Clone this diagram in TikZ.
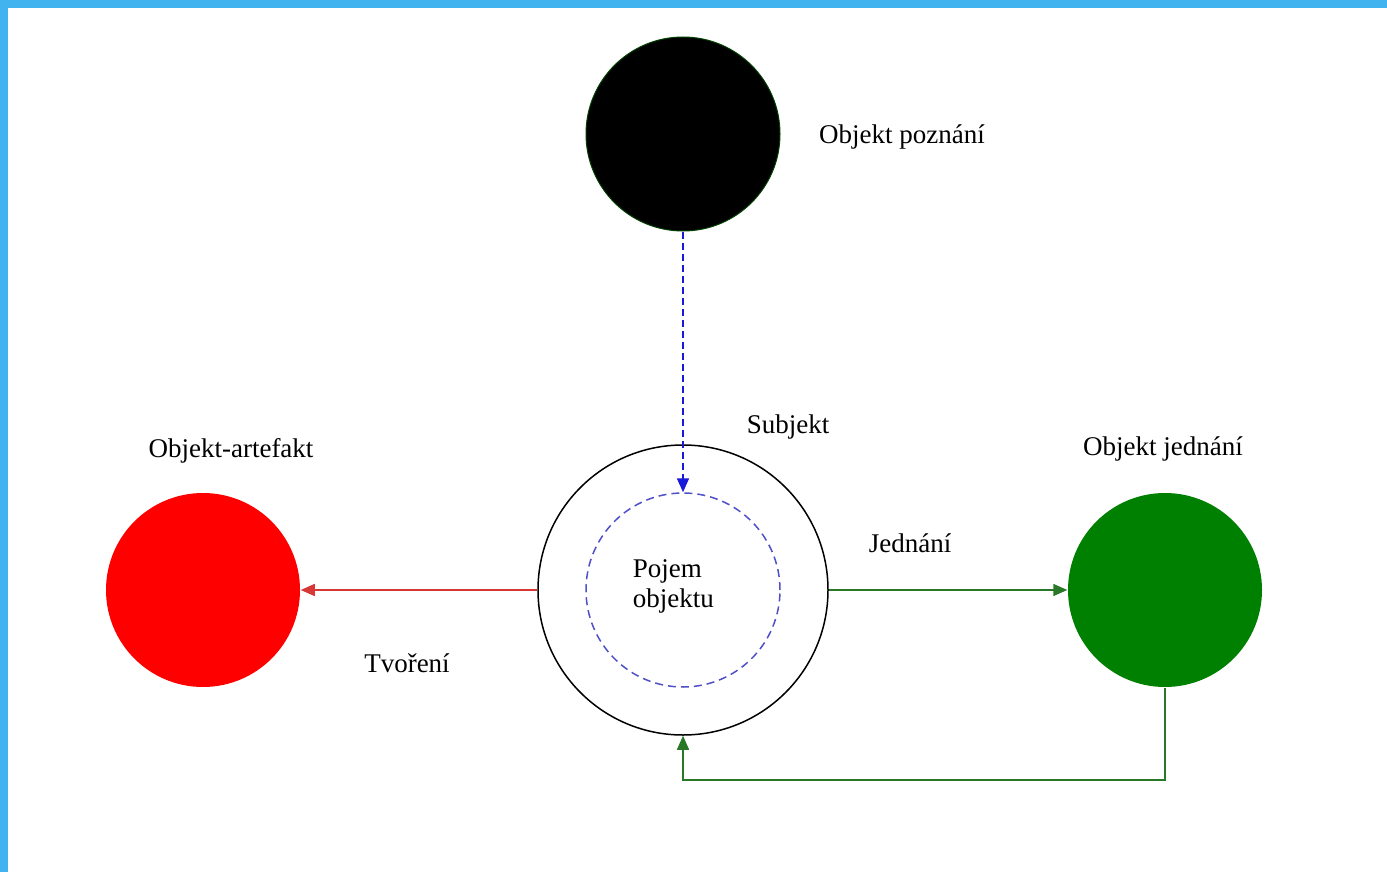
\documentclass[tikz,border=0pt]{standalone}
\usepackage{fontspec}
\setmainfont{Liberation Serif}
\usetikzlibrary{arrows.meta}
\definecolor{frameblue}{RGB}{65,180,240}
\definecolor{objgreen}{RGB}{0,128,0}
\definecolor{linegreen}{RGB}{40,120,40}
\definecolor{linered}{RGB}{215,55,55}
\definecolor{arrblue}{RGB}{25,25,220}
\definecolor{dashblue}{RGB}{80,80,200}
\tikzset{
  obj/.style={circle, minimum size=194pt, inner sep=0pt},
  lbl/.style={font=\fontsize{27}{30}\selectfont, inner sep=0pt},
  tip/.style={-{Triangle[length=14pt,width=12pt]}}
}
\begin{document}
\begin{tikzpicture}[x=1pt, y=-1pt, line width=1.5pt]
          \fill[frameblue] (0,0) rectangle (1387,872);
          \fill[white] (8,8) rectangle (1387,872);

          \node[obj, fill=black, draw=objgreen!50!black, line width=1pt] (nPoz) at (683,134) {};
          \node[obj, fill=red] (nArt) at (203,590) {};
          \node[obj, fill=objgreen] (nJed) at (1165,590) {};
          \node[circle, draw=black, minimum size=290pt, inner sep=0pt] (nSub) at (683,590) {};
          \node[obj, draw=dashblue, dash pattern=on 8pt off 5pt] (nPoj) at (683,590) {};
          \coordinate (cLoop) at (0,780);

          \node[lbl, anchor=base] (tPoz) at (902,143) {Objekt poznání};
          \node[lbl, anchor=base] (tSub) at (788,433) {Subjekt};
          \node[lbl, anchor=base] (tArt) at (231,457) {Objekt-artefakt};
          \node[lbl, anchor=base] (tJed) at (1163,455) {Objekt jednání};
          \node[lbl, anchor=base] (tJedn) at (910,552) {Jednání};
          \node[lbl, anchor=base] (tTvo) at (407,672) {Tvoření};
          \node[lbl, align=left, anchor=north west] (tPoj) at (632,559) {Pojem\\objektu};

          \draw[tip, arrblue, dash pattern=on 7pt off 4pt] (nPoz) -- (nPoj);
          \draw[tip, linered] (nSub) -- (nArt);
          \draw[tip, linegreen] (nSub) -- (nJed);
          \draw[tip, linegreen] (nJed) -- (nJed |- cLoop) -| (nSub);
        \end{tikzpicture}
\end{document}
